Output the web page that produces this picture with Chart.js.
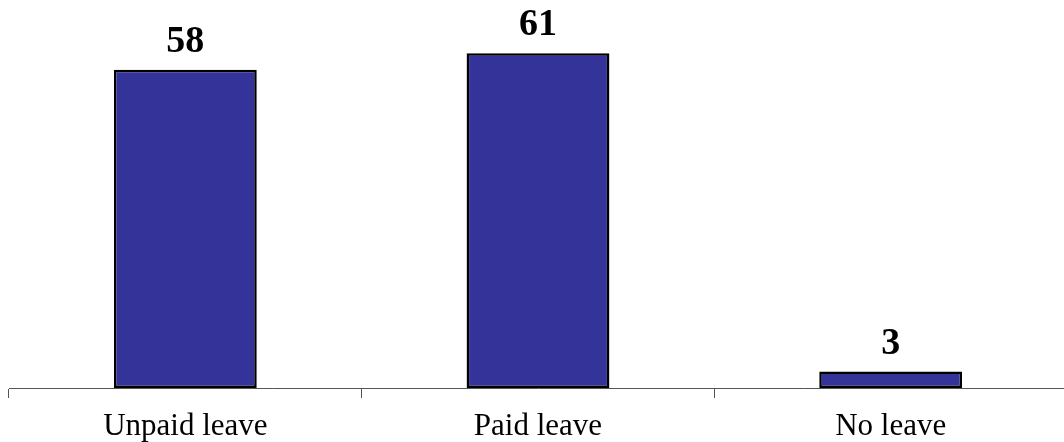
<!DOCTYPE html>
<html>
<head>
<meta charset="utf-8">
<script src="https://cdn.jsdelivr.net/npm/chart.js@4"></script>
<style>
  html, body { margin: 0; padding: 0; background: #fff; overflow: hidden; }
  #wrap { width: 1068px; height: 442px; position: relative; }
</style>
</head>
<body>
<div id="wrap"><canvas id="leaveChart"></canvas></div>
<script>
const categories = ['Unpaid leave', 'Paid leave', 'No leave'];
const leaveCounts = [58, 61, 3];

// value labels drawn above each bar
const barLabels = {
    id: 'barLabels',
    afterDatasetsDraw(chart) {
        const ctx = chart.ctx;
        const meta = chart.getDatasetMeta(0);
        ctx.save();
        ctx.font = 'bold 38px "Liberation Serif", "Times New Roman", serif';
        ctx.fillStyle = '#000';
        ctx.textAlign = 'center';
        ctx.textBaseline = 'alphabetic';
        meta.data.forEach((bar, i) => {
            ctx.fillText(String(leaveCounts[i]), bar.x, bar.y - 18);
        });
        ctx.restore();
    }
};

const ctxLeave = document.getElementById('leaveChart').getContext('2d');
new Chart(ctxLeave, {
    type: 'bar',
    data: {
        labels: categories,
        datasets: [{
            data: leaveCounts,
            backgroundColor: '#333399',
            borderColor: '#000000',
            borderWidth: 2.5,
            borderSkipped: false,
            categoryPercentage: 1,
            barPercentage: 0.405
        }]
    },
    options: {
        responsive: true,
        maintainAspectRatio: false,
        animation: false,
        layout: { padding: { top: 4, left: 9, right: 1, bottom: 0 } },
        plugins: {
            legend: { display: false },
            tooltip: { enabled: false }
        },
        scales: {
            x: {
                offset: true,
                grid: {
                    offset: true,
                    drawOnChartArea: false,
                    drawTicks: true,
                    tickLength: 10,
                    color: '#555555'
                },
                border: { display: true, color: '#555555', width: 1 },
                ticks: {
                    color: '#000',
                    padding: 10,
                    font: { family: '"Liberation Serif", "Times New Roman", serif', size: 31 }
                },
                afterFit(scale) { scale.height = 54; }
            },
            y: {
                display: false,
                min: 0,
                max: 70
            }
        }
    },
    plugins: [barLabels]
});
</script>
</body>
</html>
